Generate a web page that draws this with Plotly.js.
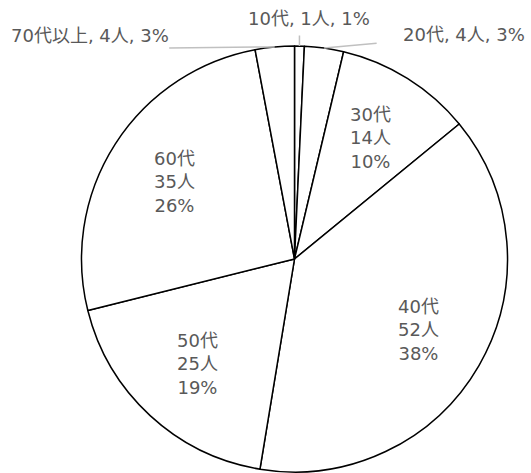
<!DOCTYPE html>
<html>
<head>
<meta charset="utf-8">
<script src="https://cdn.plot.ly/plotly-3.0.1.min.js"></script>
<style>html,body{margin:0;padding:0;background:#fff;}</style>
</head>
<body>
<div id="chart" style="width:531px;height:473px;"></div>
<script>
const categories = ['10代', '20代', '30代', '40代', '50代', '60代', '70代以上'];
const counts = [1, 4, 14, 52, 25, 35, 4];
const percentLabels = ['1%', '3%', '10%', '38%', '19%', '26%', '3%'];
const isOutside = [true, true, false, false, false, false, true];

const W = 531, H = 473;
const cxPx = 294.5, cyPx = 259, R = 213;
const domX = [(cxPx - R) / W, (cxPx + R) / W];
const domY = [(H - cyPx - R) / H, (H - cyPx + R) / H];

const font = '"DejaVu Sans", "Noto Sans CJK JP", sans-serif';
const textColor = '#595959';
const fontSize = 18;

// outside label placement (pixel offsets relative to the slice edge)
const leader = {
  0: { ax: 0, ay: -12, xs: 10, ys: 28 },
  1: { ax: 54, ay: -5, xs: 140, ys: 14 },
  6: { ax: -107, ay: 1, xs: -185, ys: 11 }
};

const total = counts.reduce((a, b) => a + b, 0);
const annotations = [];
let cum = 0;
counts.forEach((v, i) => {
  const theta = (cum + v / 2) / total * 2 * Math.PI;
  cum += v;
  const s = Math.sin(theta), c = Math.cos(theta);
  if (isOutside[i]) {
    const tipX = (cxPx + R * s) / W;
    const tipY = (H - (cyPx - R * c)) / H;
    const L = leader[i];
    annotations.push({
      xref: 'paper', yref: 'paper', x: tipX, y: tipY,
      text: '', showarrow: true, arrowhead: 0, arrowwidth: 1.5,
      arrowcolor: '#c0c0c0', ax: L.ax, ay: L.ay, standoff: 0
    });
    annotations.push({
      xref: 'paper', yref: 'paper', x: tipX, y: tipY,
      xshift: L.xs, yshift: L.ys, xanchor: 'center', yanchor: 'middle',
      text: `${categories[i]}, ${counts[i]}人, ${percentLabels[i]}`,
      showarrow: false,
      font: { family: font, size: fontSize, color: textColor }
    });
  } else {
    const rf = 0.67 * R;
    annotations.push({
      xref: 'paper', yref: 'paper',
      x: (cxPx + rf * s) / W, y: (H - (cyPx - rf * c)) / H,
      xanchor: 'center', yanchor: 'middle', align: 'center',
      text: `${categories[i]}<br>${counts[i]}人<br>${percentLabels[i]}`,
      showarrow: false,
      font: { family: font, size: fontSize, color: textColor }
    });
  }
});

const trace = {
  type: 'pie',
  labels: categories,
  values: counts,
  textinfo: 'none',
  sort: false,
  direction: 'clockwise',
  rotation: 0,
  hoverinfo: 'none',
  marker: { colors: categories.map(() => '#ffffff'), line: { color: '#000000', width: 1.5 } },
  domain: { x: domX, y: domY },
  automargin: false
};
const layout = {
  width: W, height: H,
  margin: { l: 0, r: 0, t: 0, b: 0 },
  showlegend: false,
  paper_bgcolor: '#ffffff',
  font: { family: font },
  annotations: annotations
};
Plotly.newPlot('chart', [trace], layout, { displayModeBar: false, staticPlot: true });
</script>
</body>
</html>
